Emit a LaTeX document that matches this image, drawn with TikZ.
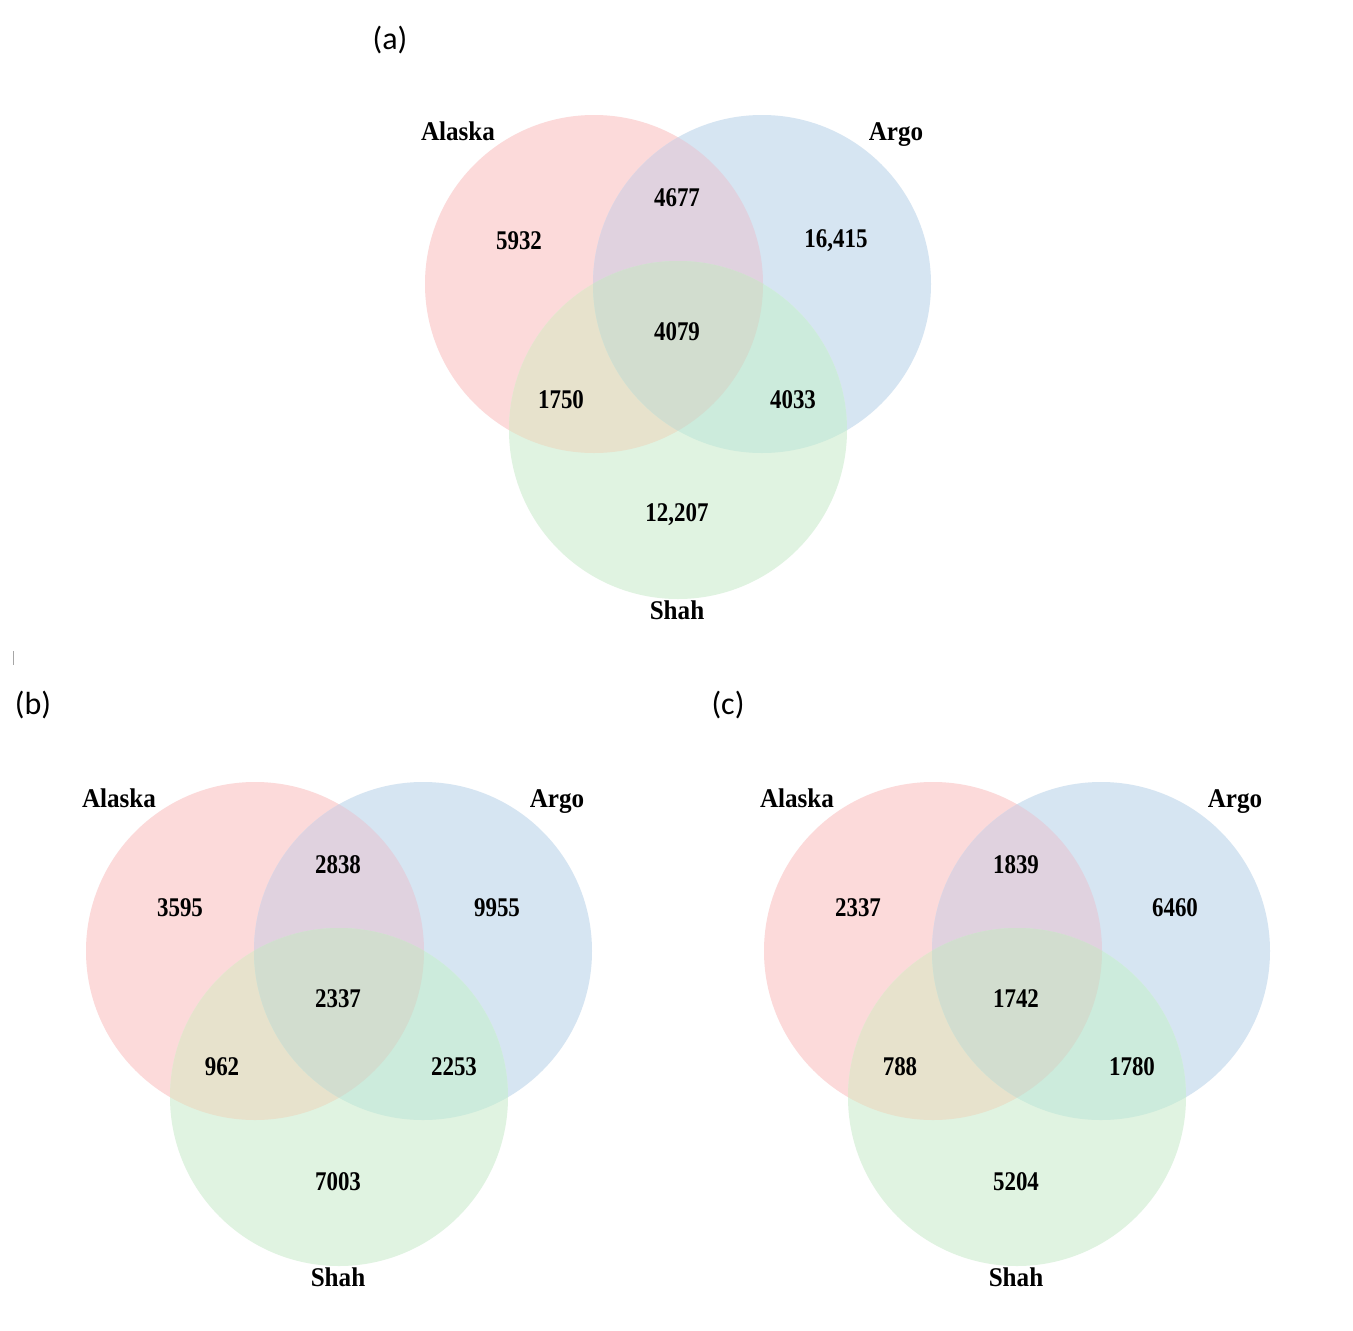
\documentclass[tikz,border=0pt]{standalone}
\usepackage{fontspec}
\setmainfont{Liberation Serif}
\newfontfamily\lblfont{Carlito}
\definecolor{cA}{HTML}{FCDADA}
\definecolor{cB}{HTML}{D6E5F2}
\definecolor{cC}{HTML}{E0F3E1}
\definecolor{cAB}{HTML}{E0D2DF}
\definecolor{cAC}{HTML}{E7E2CC}
\definecolor{cBC}{HTML}{CCEBDC}
\definecolor{cABC}{HTML}{D2DDCF}
\tikzset{
  num/.style={font=\fontsize{27}{27}\selectfont\bfseries, inner sep=0pt, xscale=0.85},
  setname/.style={font=\fontsize{27}{27}\selectfont\bfseries, inner sep=0pt, xscale=0.93},
  panel/.style={font=\lblfont\fontsize{32}{32}\selectfont, inner sep=0pt},
}
\newcommand{\myvenn}[9]{%
  \begin{scope}[shift={(#1)}]
    \coordinate (#2A) at (0,0);
    \coordinate (#2B) at (168,0);
    \coordinate (#2C) at (84,146);
    \fill[cA] (#2A) circle[radius=169pt];
    \fill[cB] (#2B) circle[radius=169pt];
    \fill[cC] (#2C) circle[radius=169pt];
    \begin{scope}\clip (#2A) circle[radius=169pt]; \fill[cAB] (#2B) circle[radius=169pt];\end{scope}
    \begin{scope}\clip (#2A) circle[radius=169pt]; \fill[cAC] (#2C) circle[radius=169pt];\end{scope}
    \begin{scope}\clip (#2B) circle[radius=169pt]; \fill[cBC] (#2C) circle[radius=169pt];\end{scope}
    \begin{scope}\clip (#2A) circle[radius=169pt]; \clip (#2B) circle[radius=169pt]; \fill[cABC] (#2C) circle[radius=169pt];\end{scope}
    \node[setname] (#2la) at (-136,-153) {Alaska};
    \node[setname] (#2lb) at (302,-149) {Argo};
    \node[setname] (#2lc) at (83,326) {Shah};
    \node[num] (#2nA) at (-75,-43) {#3};
    \node[num] (#2nAB) at (83,-86) {#4};
    \node[num] (#2nB) at (242,-43) {#5};
    \node[num] (#2nABC) at (83,48) {#6};
    \node[num] (#2nAC) at (-33,116) {#7};
    \node[num] (#2nBC) at (199,116) {#8};
    \node[num] (#2nC) at (83,231) {#9};
  \end{scope}}
\begin{document}
\begin{tikzpicture}[x=1pt,y=-1pt]
  \fill[white] (0,0) rectangle (1353,1331);
  \useasboundingbox (0,0) rectangle (1353,1331);
  \myvenn{594,284}{a}{5932}{4677}{16,415}{4079}{1750}{4033}{12,207}
  \myvenn{255,951}{b}{3595}{2838}{9955}{2337}{962}{2253}{7003}
  \myvenn{933,951}{c}{2337}{1839}{6460}{1742}{788}{1780}{5204}
  \node[panel] (pa) at (390,40) {(a)};
  \node[panel] (pb) at (33,705) {(b)};
  \node[panel] (pc) at (728,705) {(c)};
  \coordinate (t1) at (13,651);
  \coordinate (t2) at (13,665);
  \draw[gray!70, line width=1pt] (t1) -- (t2);
\end{tikzpicture}
\end{document}
